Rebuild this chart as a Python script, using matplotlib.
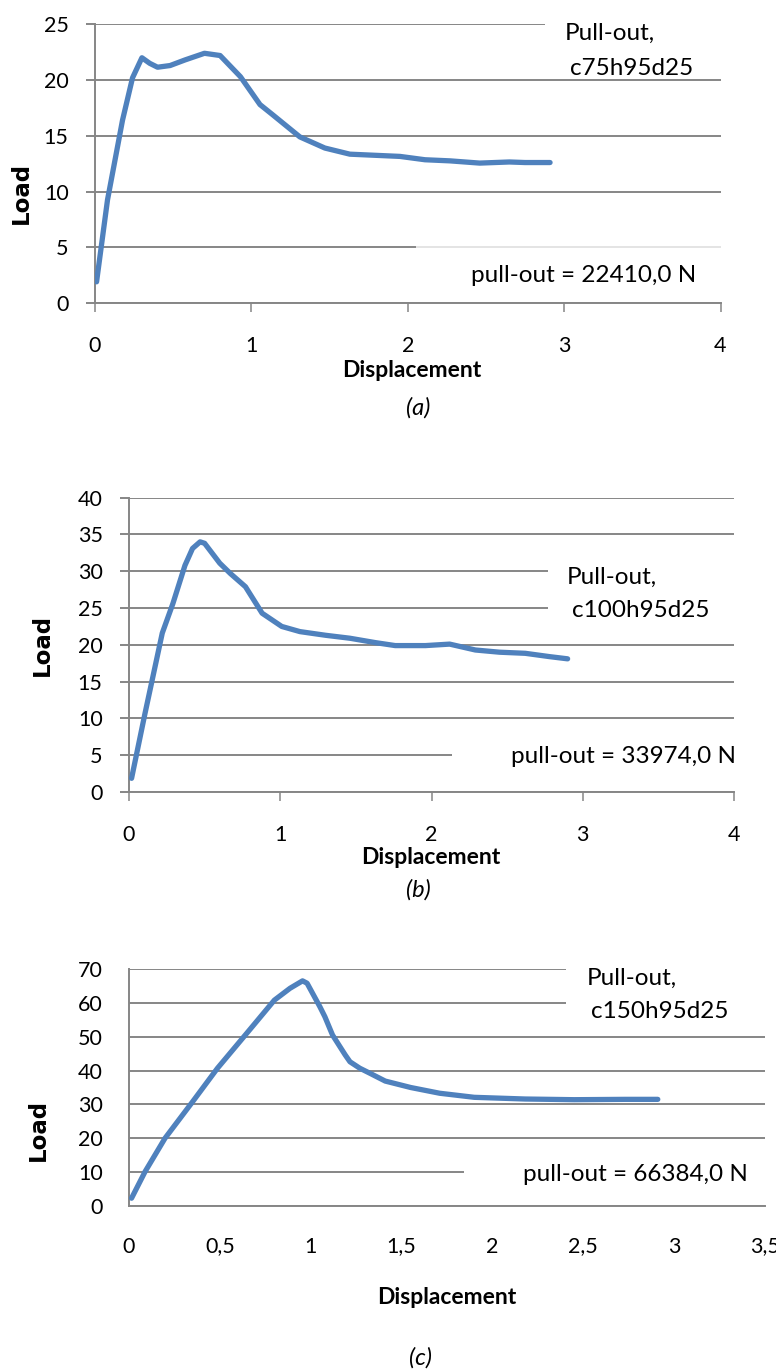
import matplotlib
matplotlib.use("Agg")
import matplotlib.pyplot as plt
from matplotlib.patches import Rectangle
from matplotlib import ticker

plt.rcParams['font.family'] = ['Lato', 'DejaVu Sans']

# ---------------- data ----------------
disp_a = [0.01, 0.08, 0.176, 0.24, 0.30, 0.35, 0.40, 0.48, 0.575, 0.70, 0.80, 0.93,
          1.055, 1.135, 1.31, 1.47, 1.63, 1.95, 2.11, 2.27, 2.46, 2.65, 2.75, 2.91]
load_a = [1.9, 9.25, 16.4, 20.2, 22.0, 21.5, 21.15, 21.3, 21.8, 22.4, 22.2, 20.3,
          17.8, 16.9, 14.9, 13.9, 13.35, 13.15, 12.85, 12.75, 12.55, 12.65, 12.6, 12.6]

disp_b = [0.017, 0.106, 0.22, 0.29, 0.37, 0.42, 0.47, 0.50, 0.60, 0.67, 0.77, 0.88,
          1.01, 1.13, 1.30, 1.46, 1.63, 1.76, 1.96, 2.12, 2.29, 2.45, 2.62, 2.78, 2.90]
load_b = [1.86, 10.7, 21.6, 25.6, 30.8, 33.1, 34.0, 33.8, 31.1, 29.7, 27.9, 24.3,
          22.5, 21.8, 21.3, 20.9, 20.3, 19.9, 19.9, 20.1, 19.3, 19.0, 18.85, 18.4, 18.1]

disp_c = [0.014, 0.088, 0.198, 0.35, 0.487, 0.64, 0.80, 0.886, 0.955, 0.98, 1.05, 1.078,
          1.12, 1.19, 1.216, 1.27, 1.326, 1.41, 1.55, 1.71, 1.90, 2.18, 2.45, 2.73, 2.91]
load_c = [2.3, 10.1, 20.0, 30.8, 40.7, 50.5, 60.8, 64.3, 66.5, 65.8, 58.9, 55.9,
          50.5, 44.6, 42.6, 40.7, 39.2, 36.9, 35.0, 33.3, 32.1, 31.6, 31.4, 31.5, 31.5]

titles = ["c75h95d25", "c100h95d25", "c150h95d25"]
pullout = ["pull-out = 22410,0 N", "pull-out = 33974,0 N", "pull-out = 66384,0 N"]
captions = ["(a)", "(b)", "(c)"]
xmax = [4, 4, 3.5]
xstep = [1, 1, 0.5]
ymax = [25, 40, 70]
ystep = [5, 5, 10]

# ---------------- layout ----------------
W, H = 776, 1372
fig = plt.figure(figsize=(W / 100, H / 100), dpi=100)

def rect(l, r, t, b):
    return [l / W, (H - b) / H, (r - l) / W, (b - t) / H]

axes_px = [(95, 720.5, 24.3, 303), (129, 734, 497.7, 792), (129, 765, 969, 1206)]
LINE = '#4F81BD'
GRID = '#868686'
FS_TICK = 15.5
FS_TXT = 17.5

top_box = [(0.719, 0.818, 1.08), (0.693, 0.567, 0.822), (0.687, 0.785, 1.08)]
bot_box = [(0.513, 0.01, 0.226, 0.78), (0.534, 0.024, 0.211, 1.0), (0.527, 0.025, 0.236, 1.0)]
t1_pos = [(0.751, 0.969), (0.724, 0.731), (0.719, 0.962)]
t2_pos = [(0.759, 0.843), (0.732, 0.618), (0.726, 0.819)]
po_pos = [(0.962, 0.097), (1.003, 0.122), (0.973, 0.131)]
xl_pos = [(0.507, -0.243), (0.499, -0.224), (0.5, -0.388)]
yl_pos = [(-0.118, 0.395), (-0.144, 0.5), (-0.142, 0.32)]
cap_pos = [(418, 408), (418, 890), (420, 1358)]
has_ticks = [True, True, False]

data = [(disp_a, load_a), (disp_b, load_b), (disp_c, load_c)]
fmt = ticker.FuncFormatter(lambda v, p: f"{v:g}".replace('.', ','))

for i in range(3):
    ax = fig.add_axes(rect(*axes_px[i]))
    x, y = data[i]
    ax.plot(x, y, color=LINE, lw=3.8, solid_capstyle='round', solid_joinstyle='round', zorder=5)
    ax.set_xlim(0, xmax[i])
    ax.set_ylim(0, ymax[i])
    ax.set_xticks([k * xstep[i] for k in range(int(round(xmax[i] / xstep[i])) + 1)])
    ax.set_yticks(list(range(0, ymax[i] + 1, ystep[i])))
    ax.xaxis.set_major_formatter(fmt)
    ax.yaxis.set_major_formatter(fmt)
    for s in ['top', 'right']:
        ax.spines[s].set_visible(False)
    for s in ['left', 'bottom']:
        ax.spines[s].set_color(GRID)
        ax.spines[s].set_linewidth(1.4)
    ax.grid(axis='y', color=GRID, lw=1.4, zorder=0)
    ax.set_axisbelow(True)
    if has_ticks[i]:
        ax.tick_params(axis='x', length=6.5, width=1.1, color=GRID, pad=17, labelsize=FS_TICK)
        ax.tick_params(axis='y', length=6.5, width=1.4, color=GRID, pad=12.5, labelsize=FS_TICK)
    else:
        ax.tick_params(axis='x', length=0, pad=22, labelsize=FS_TICK)
        ax.tick_params(axis='y', length=0, pad=19, labelsize=FS_TICK)
    for lab in ax.get_xticklabels() + ax.get_yticklabels():
        lab.set_clip_on(False)

    # white label boxes over gridlines
    l, b0, t0 = top_box[i]
    ax.add_patch(Rectangle((l, b0), 1.05 - l, t0 - b0, transform=ax.transAxes,
                           facecolor='white', edgecolor='none', zorder=2, clip_on=False))
    l, b0, t0, a = bot_box[i]
    ax.add_patch(Rectangle((l, b0), 1.05 - l, t0 - b0, transform=ax.transAxes,
                           facecolor='white', edgecolor='none', alpha=a, zorder=2, clip_on=False))

    ax.text(*t1_pos[i], "Pull-out,", transform=ax.transAxes, ha='left', va='center',
            fontsize=FS_TXT, zorder=6)
    ax.text(*t2_pos[i], titles[i], transform=ax.transAxes, ha='left', va='center',
            fontsize=FS_TXT, zorder=6)
    ax.text(*po_pos[i], pullout[i], transform=ax.transAxes, ha='right', va='center',
            fontsize=FS_TXT, zorder=6)

    ax.set_xlabel("Displacement", fontsize=16.5, fontweight='bold')
    ax.xaxis.set_label_coords(*xl_pos[i])
    ax.xaxis.label.set_va('center')
    ax.set_ylabel("Load", fontsize=16.5, fontweight='bold', fontfamily='DejaVu Sans')
    ax.yaxis.set_label_coords(*yl_pos[i])
    ax.yaxis.label.set_va('center')

    cx, cy = cap_pos[i]
    fig.text(cx / W, (H - cy) / H, captions[i], ha='center', va='center',
             fontsize=17, style='italic')

fig.savefig("out.png", dpi=100)
